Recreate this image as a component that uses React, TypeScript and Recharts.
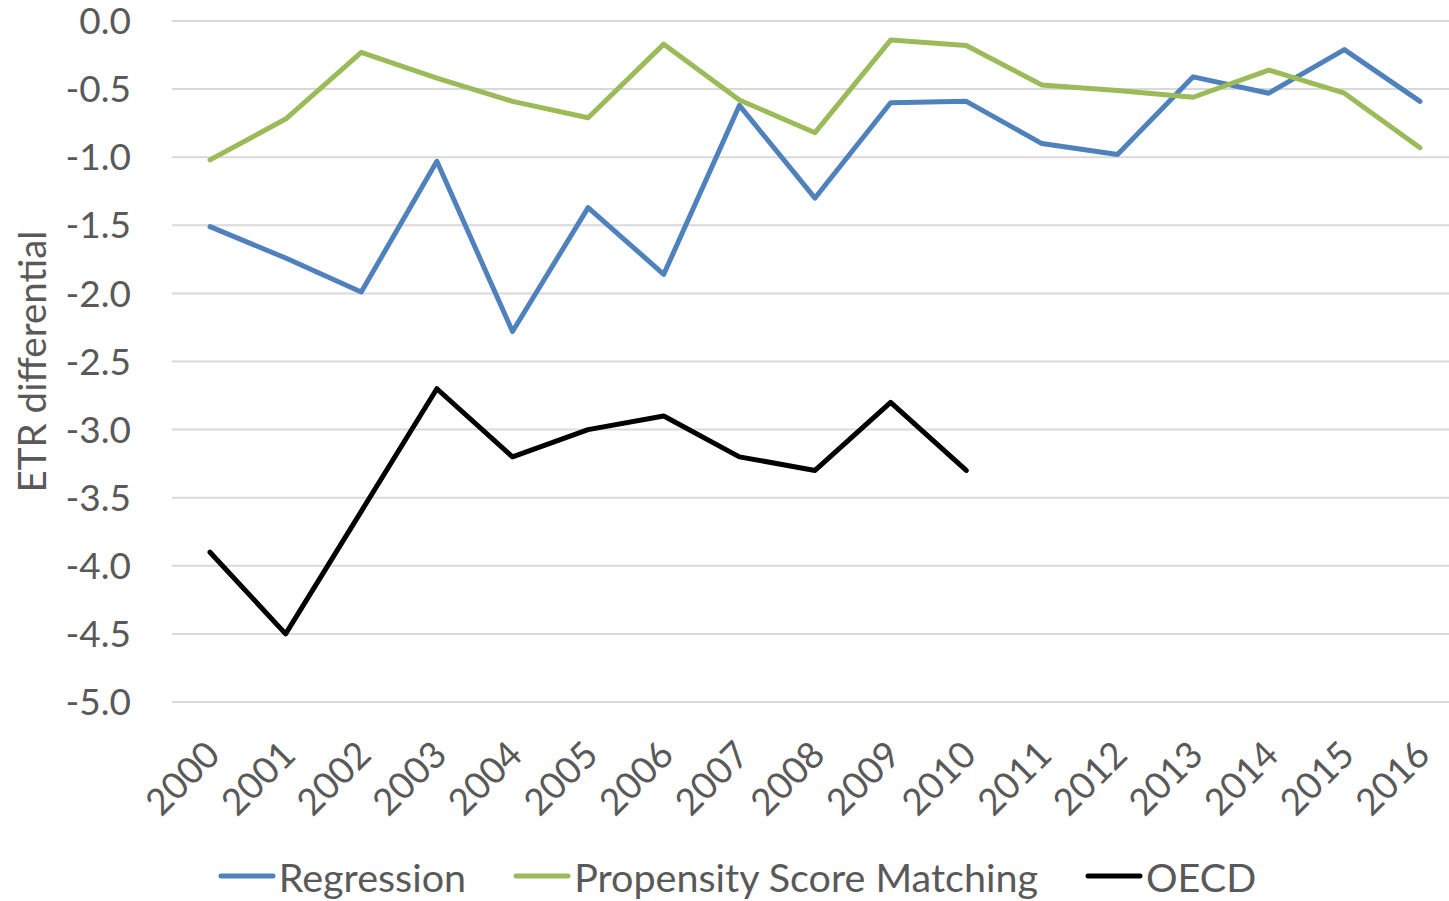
import React from 'react';
import { LineChart, Line, XAxis, YAxis, CartesianGrid, Legend } from 'recharts';

const years = [
  '2000', '2001', '2002', '2003', '2004', '2005', '2006', '2007', '2008',
  '2009', '2010', '2011', '2012', '2013', '2014', '2015', '2016',
];
const regression = [
  -1.51, -1.74, -1.99, -1.03, -2.28, -1.37, -1.86, -0.62, -1.3,
  -0.6, -0.59, -0.9, -0.98, -0.41, -0.53, -0.21, -0.59,
];
const propensity = [
  -1.02, -0.72, -0.23, -0.42, -0.59, -0.71, -0.17, -0.58, -0.82,
  -0.14, -0.18, -0.47, -0.51, -0.56, -0.36, -0.53, -0.93,
];
const oecd = [-3.9, -4.5, -3.6, -2.7, -3.2, -3.0, -2.9, -3.2, -3.3, -2.8, -3.3];
const yTicks = [0, -0.5, -1, -1.5, -2, -2.5, -3, -3.5, -4, -4.5, -5];

const seriesInfo = [
  { key: 'regression', name: 'Regression', color: '#4F81BD' },
  { key: 'propensity', name: 'Propensity Score Matching', color: '#9BBB59' },
  { key: 'oecd', name: 'OECD', color: '#000000' },
];

const data = years.map((year, i) => ({
  year,
  regression: regression[i],
  propensity: propensity[i],
  oecd: i < oecd.length ? oecd[i] : null,
}));

const FONT = 'Lato, "Open Sans", sans-serif';
const TEXT = '#595959';

// year labels slanted at -45°, anchored by their end
const YearTick = (props: any) => {
  const { x, y, payload } = props;
  const tx = x + 12;
  const ty = y + 55;
  return (
    <text
      x={tx}
      y={ty}
      textAnchor="end"
      fill={TEXT}
      fontSize={37}
      fontFamily={FONT}
      transform={`rotate(-45 ${tx} ${ty})`}
    >
      {payload.value}
    </text>
  );
};

const AxisTitle = (props: any) => {
  const { viewBox } = props;
  const cx = viewBox.x + 46;
  const cy = viewBox.y + viewBox.height / 2;
  return (
    <text
      x={cx}
      y={cy}
      textAnchor="middle"
      fill={TEXT}
      fontSize={38.5}
      fontFamily={FONT}
      transform={`rotate(-90 ${cx} ${cy})`}
    >
      ETR differential
    </text>
  );
};

const LegendContent = () => (
  <div
    style={{
      display: 'flex',
      justifyContent: 'center',
      alignItems: 'center',
      gap: 47,
      height: 50,
      paddingLeft: 16,
      fontFamily: FONT,
      fontSize: 39.5,
      color: TEXT,
    }}
  >
    {seriesInfo.map((s) => (
      <div key={s.key} style={{ display: 'flex', alignItems: 'center' }}>
        <svg width={58} height={10} style={{ marginRight: 3 }}>
          <line x1={3} y1={5} x2={55} y2={5} stroke={s.color} strokeWidth={5} strokeLinecap="round" />
        </svg>
        <span>{s.name}</span>
      </div>
    ))}
  </div>
);

export default function App() {
  return (
    <div style={{ position: 'absolute', left: 0, top: 0, width: 1449, height: 901, overflow: 'hidden', background: '#fff' }}>
      <LineChart
        width={1460}
        height={901}
        data={data}
        margin={{ top: 21, right: 2, left: 0, bottom: 0 }}
      >
        <CartesianGrid vertical={false} stroke="#D9D9D9" strokeWidth={2} />
        <XAxis
          dataKey="year"
          height={149}
          axisLine={false}
          tickLine={false}
          tickSize={0}
          tickMargin={0}
          interval={0}
          padding={{ left: 38, right: 38 }}
          tick={<YearTick />}
        />
        <YAxis
          width={172}
          domain={[-5, 0]}
          ticks={yTicks}
          interval={0}
          axisLine={false}
          tickLine={false}
          tickSize={0}
          tickMargin={41}
          tickFormatter={(v: number) => v.toFixed(1)}
          tick={{ fill: TEXT, fontSize: 37, fontFamily: FONT }}
          label={<AxisTitle />}
        />
        <Legend verticalAlign="bottom" height={50} content={<LegendContent />} />
        {seriesInfo.map((s) => (
          <Line
            key={s.key}
            type="linear"
            dataKey={s.key}
            name={s.name}
            stroke={s.color}
            strokeWidth={5}
            strokeLinecap="round"
            strokeLinejoin="round"
            dot={false}
            activeDot={false}
            isAnimationActive={false}
          />
        ))}
      </LineChart>
    </div>
  );
}
